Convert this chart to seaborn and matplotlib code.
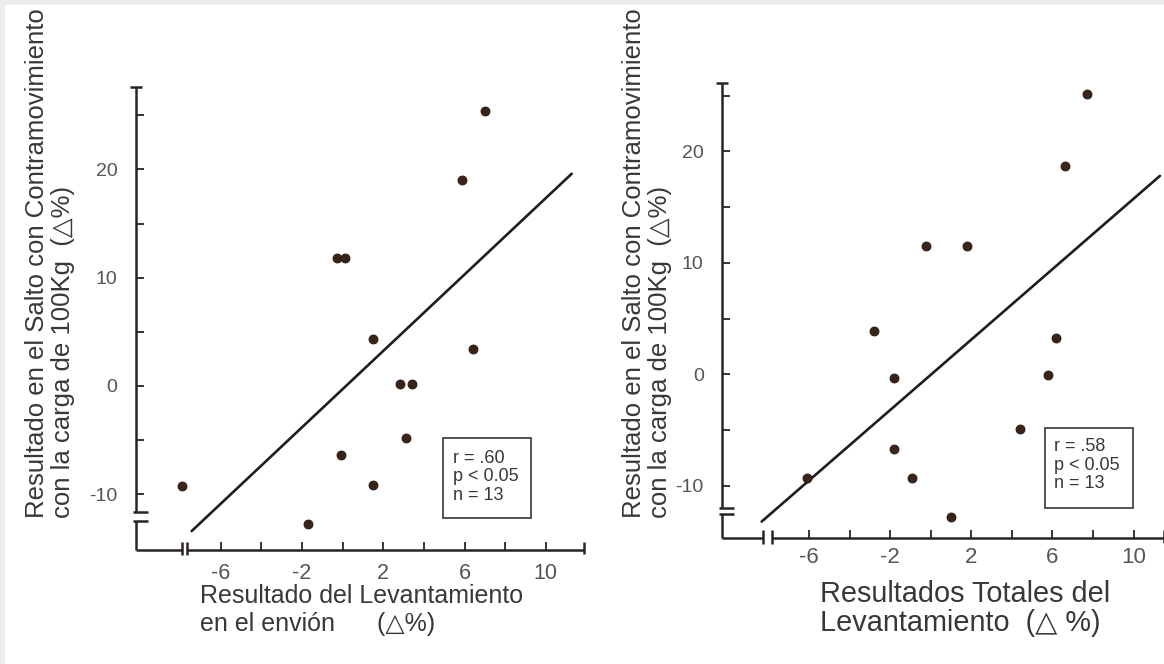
import matplotlib
matplotlib.use("Agg")
import matplotlib.pyplot as plt
import seaborn as sns
from matplotlib.patches import Rectangle

# ---------------- data ----------------
envion_x = [-7.9, -1.7, -0.3, 0.1, -0.1, 1.5, 1.5, 2.8, 3.4, 3.1, 5.9, 6.4, 7.0]
envion_y = [-9.2, -12.7, 11.8, 11.8, -6.4, 4.3, -9.1, 0.15, 0.15, -4.8, 19.0, 3.4, 25.4]
envion_fit_x = [-7.44, 11.28]
envion_fit_y = [-13.4, 19.6]

total_x = [-6.1, -2.8, -1.8, -1.8, -0.9, -0.25, 1.8, 1.0, 4.4, 5.8, 6.2, 6.6, 7.7]
total_y = [-9.25, 3.9, -0.3, -6.7, -9.3, 11.5, 11.5, -12.8, -4.9, -0.1, 3.3, 18.7, 25.1]
total_fit_x = [-8.33, 11.30]
total_fit_y = [-13.2, 17.8]

x_major = [-6, -2, 2, 6, 10]
x_minor = [-4, 0, 4, 8]
y_major = [-10, 0, 10, 20]
y_minor = [-5, 5, 15, 25]

stats_envion = "r = .60\np < 0.05\nn = 13"
stats_total = "r = .58\np < 0.05\nn = 13"

ylabel_text = "Resultado en el Salto con Contramovimiento\ncon la carga de 100Kg  (\u25b3%)"
xlabel_envion = "Resultado del Levantamiento\nen el envi\u00f3n      (\u25b3%)"
xlabel_total = "Resultados Totales del\nLevantamiento  (\u25b3 %)"

# ---------------- style ----------------
sns.set_style("white")
plt.rcParams["font.family"] = ["Liberation Sans", "DejaVu Sans"]

AX = "#2a2522"
TXT = "#383838"
TICK = "#555555"
DOT = "#3a2418"

W, H = 1164, 664
fig = plt.figure(figsize=(W / 100, H / 100), dpi=100)
fig.patch.set_facecolor("white")
# light grey scan border on top and left
fig.patches.append(Rectangle((0, 1 - 5 / H), 1, 5 / H, transform=fig.transFigure,
                             facecolor="#ececec", edgecolor="none", zorder=0))
fig.patches.append(Rectangle((0, 0), 5 / W, 1, transform=fig.transFigure,
                             facecolor="#ececec", edgecolor="none", zorder=0))


def px_axes(left, top, right, bottom):
    return fig.add_axes([left / W, 1 - bottom / H, (right - left) / W, (bottom - top) / H])


def draw_frame(ax, xlim, ylim, ybreak, xbreak):
    x0, x1 = xlim
    y0, y1 = ylim
    kw = dict(color=AX, lw=1.8, clip_on=False, solid_capstyle="butt", zorder=2)
    ax.plot([x0, x0], [y1, ybreak[0]], **kw)
    ax.plot([x0, x0], [ybreak[1], y0], **kw)
    ax.plot([x0 - 0.28, x0 + 0.3], [y1, y1], **kw)
    for yb in ybreak:
        ax.plot([x0 - 0.15, x0 + 0.6], [yb, yb], **kw)
    ax.plot([x0, xbreak[0]], [y0, y0], **kw)
    ax.plot([xbreak[1], x1], [y0, y0], **kw)
    for xb in xbreak:
        ax.plot([xb, xb], [y0 - 0.5, y0 + 0.7], **kw)
    ax.plot([x1, x1], [y0 - 0.4, y0 + 0.7], **kw)


def setup(ax, xs, ys, fx, fy, xlim, ylim, ybreak, xbreak, stats, box, txtpos,
          xtick_size, xtick_pad):
    sns.lineplot(x=fx, y=fy, ax=ax, color="#1e1e1e", lw=1.9, zorder=3)
    sns.scatterplot(x=xs, y=ys, ax=ax, s=42, color=DOT, edgecolor="#24160e",
                    linewidth=0.6, zorder=4)
    ax.set_xlim(*xlim)
    ax.set_ylim(*ylim)
    ax.set_facecolor("none")
    for s in ax.spines.values():
        s.set_visible(False)
    ax.set_xticks(x_major)
    ax.set_xticks(x_minor, minor=True)
    ax.set_yticks(y_major)
    ax.set_yticks(y_minor, minor=True)
    ax.set_xticklabels([str(v) for v in x_major])
    ax.set_yticklabels([str(v) for v in y_major])
    ax.tick_params(which="both", direction="in", length=6, width=1.3, color=AX,
                   bottom=True, left=True, top=False, right=False)
    ax.tick_params(axis="y", which="major", labelsize=14, labelcolor=TICK, pad=13)
    ax.tick_params(axis="x", which="major", labelsize=xtick_size, labelcolor=TICK,
                   pad=xtick_pad)
    ax.set_xlabel("")
    ax.set_ylabel("")
    draw_frame(ax, xlim, ylim, ybreak, xbreak)
    ax.add_patch(Rectangle((box[0], box[1]), box[2], box[3], transform=ax.transAxes,
                           fill=False, edgecolor="#444444", lw=1.3, clip_on=False))
    ax.text(txtpos[0], txtpos[1], stats, transform=ax.transAxes, ha="left", va="top",
            fontsize=13, color=TXT, linespacing=1.12)


# left panel
ax1 = px_axes(135.6, 87.1, 584.3, 549.5)
setup(ax1, envion_x, envion_y, envion_fit_x, envion_fit_y,
      (-10.2, 11.9), (-15.1, 27.6), (-11.6, -12.43), (-7.93, -7.65),
      stats_envion, (0.686, 0.069, 0.195, 0.172), (0.708, 0.216), 15.5, 10)

# right panel
ax2 = px_axes(721.7, 83.3, 1164.0, 538.3)
setup(ax2, total_x, total_y, total_fit_x, total_fit_y,
      (-10.3, 11.5), (-14.7, 26.1), (-11.94, -12.56), (-8.25, -7.83),
      stats_total, (0.731, 0.066, 0.1996, 0.176), (0.752, 0.220), 16, 6)

# axis titles
fig.text(50 / W, 1 - 518 / H, ylabel_text, rotation=90, ha="center", va="bottom",
         multialignment="left", fontsize=18.5, color=TXT, linespacing=1.15)
fig.text(647 / W, 1 - 518 / H, ylabel_text, rotation=90, ha="center", va="bottom",
         multialignment="left", fontsize=18.5, color=TXT, linespacing=1.15)
fig.text(200 / W, 1 - 584 / H, xlabel_envion, ha="left", va="top",
         fontsize=18, color=TXT, linespacing=1.2)
fig.text(820 / W, 1 - 580 / H, xlabel_total, ha="left", va="top",
         fontsize=20.8, color=TXT, linespacing=1.05)

fig.savefig("out.png", dpi=100)
